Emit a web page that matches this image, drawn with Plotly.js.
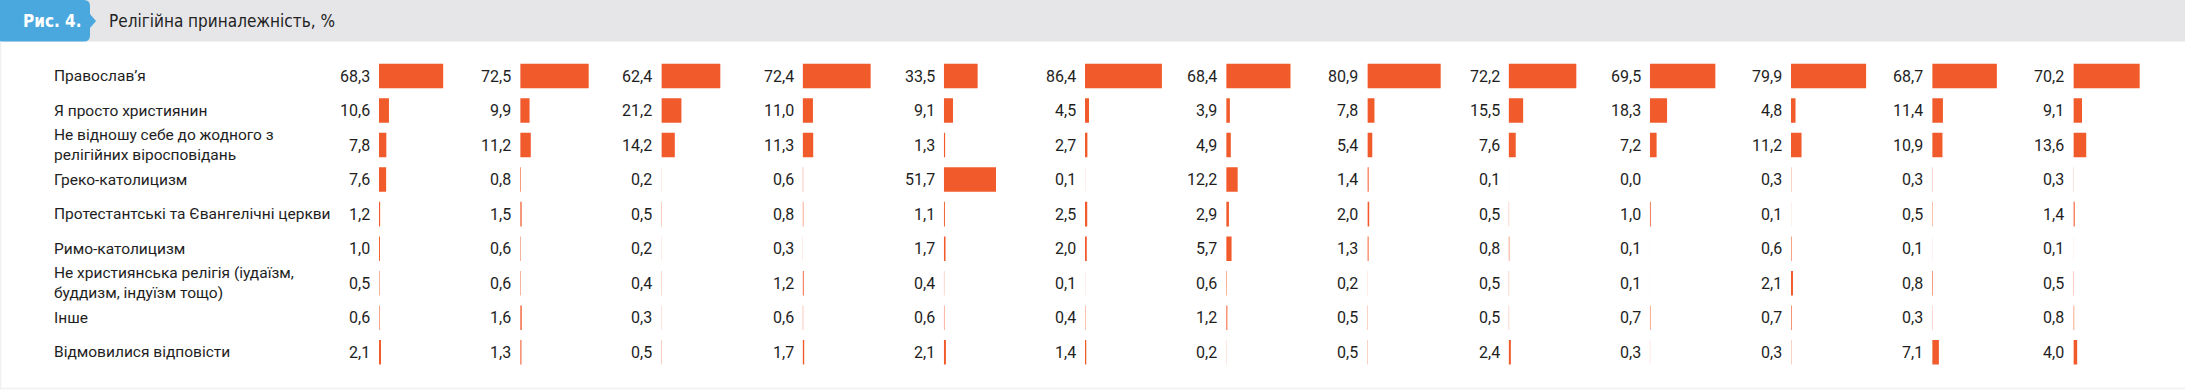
<!DOCTYPE html>
<html>
<head>
<meta charset="utf-8">
<script src="https://cdn.plot.ly/plotly-3.0.1.min.js"></script>
<style>
  html, body { margin: 0; padding: 0; background: #ffffff; }
  #chart { width: 2185px; height: 390px; }
</style>
</head>
<body>
<div id="chart"></div>
<script>
// ---------- text ----------
const figureLabel = 'Рис. 4.';
const chartTitle = 'Релігійна приналежність, %';

// ---------- categories (rows) ----------
const categories = [
  'Православ’я',
  'Я просто християнин',
  'Не відношу себе до жодного з релігійних віросповідань',
  'Греко-католицизм',
  'Протестантські та Євангелічні церкви',
  'Римо-католицизм',
  'Не християнська релігія (іудаїзм, буддизм, індуїзм тощо)',
  'Інше',
  'Відмовилися відповісти'
];
const categoryLabels = [
  'Православ’я',
  'Я просто християнин',
  'Не відношу себе до жодного з<br>релігійних віросповідань',
  'Греко-католицизм',
  'Протестантські та Євангелічні церкви',
  'Римо-католицизм',
  'Не християнська релігія (іудаїзм,<br>буддизм, індуїзм тощо)',
  'Інше',
  'Відмовилися відповісти'
];

// ---------- series values (one array per column, %) ----------
const col01 = [68.3, 10.6,  7.8,  7.6, 1.2, 1.0, 0.5, 0.6, 2.1];
const col02 = [72.5,  9.9, 11.2,  0.8, 1.5, 0.6, 0.6, 1.6, 1.3];
const col03 = [62.4, 21.2, 14.2,  0.2, 0.5, 0.2, 0.4, 0.3, 0.5];
const col04 = [72.4, 11.0, 11.3,  0.6, 0.8, 0.3, 1.2, 0.6, 1.7];
const col05 = [33.5,  9.1,  1.3, 51.7, 1.1, 1.7, 0.4, 0.6, 2.1];
const col06 = [86.4,  4.5,  2.7,  0.1, 2.5, 2.0, 0.1, 0.4, 1.4];
const col07 = [68.4,  3.9,  4.9, 12.2, 2.9, 5.7, 0.6, 1.2, 0.2];
const col08 = [80.9,  7.8,  5.4,  1.4, 2.0, 1.3, 0.2, 0.5, 0.5];
const col09 = [72.2, 15.5,  7.6,  0.1, 0.5, 0.8, 0.5, 0.5, 2.4];
const col10 = [69.5, 18.3,  7.2,  0.0, 1.0, 0.1, 0.1, 0.7, 0.3];
const col11 = [79.9,  4.8, 11.2,  0.3, 0.1, 0.6, 2.1, 0.7, 0.3];
const col12 = [68.7, 11.4, 10.9,  0.3, 0.5, 0.1, 0.8, 0.3, 7.1];
const col13 = [70.2,  9.1, 13.6,  0.3, 1.4, 0.1, 0.5, 0.8, 4.0];
const columns = [col01, col02, col03, col04, col05, col06, col07, col08, col09, col10, col11, col12, col13];

// ---------- layout / style constants ----------
const W = 2185, H = 390;
const BAR_COLOR = '#f15a2b';
const TEXT_COLOR = '#1e1e1e';
const LABEL_FONT = 'Roboto, "Open Sans", sans-serif';
const HEAD_FONT = '"DejaVu Sans Condensed", "Liberation Sans Narrow", Roboto, sans-serif';
const firstBase = 379;      // px, left edge (zero) of first column
const colStep = 141.2;      // px between columns
const axisWidthPx = 100;    // px width of each column's x-axis domain
// px per 1% in each column (as drawn in the reference)
const pxPerUnit = [0.94, 0.945, 0.944, 0.94, 1.01, 0.89, 0.94, 0.906, 0.938, 0.943, 0.94, 0.941, 0.944];
const rowsTopPx = 58.75, rowsBottomPx = 369.5;
const headerH = 41.5;

const px = x => x / W;
const py = y => 1 - y / H;
const fmt = v => v.toFixed(1).replace('.', ',');

const data = [];
const annotations = [];
const layout = {
  width: W, height: H,
  margin: {l: 0, r: 0, t: 0, b: 0, pad: 0},
  paper_bgcolor: '#ffffff',
  plot_bgcolor: 'rgba(0,0,0,0)',
  showlegend: false,
  bargap: 0.29,
  yaxis: {
    type: 'category',
    categoryorder: 'array',
    categoryarray: categories,
    range: [categories.length - 0.5, -0.5],
    domain: [py(rowsBottomPx), py(rowsTopPx)],
    visible: false,
    fixedrange: true
  },
  shapes: [],
  annotations: annotations
};

columns.forEach((vals, k) => {
  const axName = k === 0 ? 'x' : 'x' + (k + 1);
  const axKey = k === 0 ? 'xaxis' : 'xaxis' + (k + 1);
  const base = firstBase + k * colStep;
  layout[axKey] = {
    domain: [px(base), px(base + axisWidthPx)],
    range: [0, axisWidthPx / pxPerUnit[k]],
    visible: false,
    fixedrange: true,
    anchor: 'y'
  };
  data.push({
    type: 'bar',
    orientation: 'h',
    x: vals,
    y: categories,
    xaxis: axName,
    yaxis: 'y',
    marker: {color: BAR_COLOR, line: {width: 0}},
    hoverinfo: 'skip'
  });
  vals.forEach((v, i) => {
    annotations.push({
      xref: axName, yref: 'y',
      x: 0, y: categories[i],
      text: fmt(v),
      xanchor: 'right', yanchor: 'middle',
      xshift: -7,
      showarrow: false,
      font: {family: LABEL_FONT, size: 16, color: TEXT_COLOR}
    });
  });
});

// category labels
categories.forEach((c, i) => {
  annotations.push({
    xref: 'paper', yref: 'y',
    x: px(52), y: c,
    text: categoryLabels[i],
    xanchor: 'left', yanchor: 'middle', align: 'left',
    showarrow: false,
    font: {family: LABEL_FONT, size: 15.5, color: TEXT_COLOR}
  });
});

// header band, tab, frame
const tabPath = [
  `M ${px(0)} ${py(0)}`,
  `L ${px(84)} ${py(0)}`,
  `Q ${px(90)} ${py(0)} ${px(90)} ${py(6)}`,
  `L ${px(90)} ${py(14)}`,
  `L ${px(96)} ${py(21)}`,
  `L ${px(90)} ${py(28)}`,
  `L ${px(90)} ${py(headerH - 6)}`,
  `Q ${px(90)} ${py(headerH)} ${px(84)} ${py(headerH)}`,
  `L ${px(0)} ${py(headerH)} Z`
].join(' ');
layout.shapes.push(
  {type: 'rect', xref: 'paper', yref: 'paper', x0: 0, x1: 1, y0: py(headerH), y1: 1,
   fillcolor: '#e6e6e8', line: {width: 0}, layer: 'below'},
  {type: 'path', xref: 'paper', yref: 'paper', path: tabPath,
   fillcolor: '#4aa8de', line: {width: 0}, layer: 'below'},
  {type: 'line', xref: 'paper', yref: 'paper', x0: 0, x1: 1, y0: py(388.5), y1: py(388.5),
   line: {color: '#f0f0f0', width: 1.5}, layer: 'below'},
  {type: 'line', xref: 'paper', yref: 'paper', x0: px(0.5), x1: px(0.5), y0: py(388.5), y1: py(headerH),
   line: {color: '#f0f0f0', width: 1.5}, layer: 'below'}
);
annotations.push(
  {xref: 'paper', yref: 'paper', x: px(21), y: py(21), xanchor: 'left', yanchor: 'middle',
   text: '<b>' + figureLabel + '</b>', showarrow: false,
   font: {family: HEAD_FONT, size: 17, color: '#ffffff'}},
  {xref: 'paper', yref: 'paper', x: px(107), y: py(21), xanchor: 'left', yanchor: 'middle',
   text: chartTitle, showarrow: false,
   font: {family: HEAD_FONT, size: 17, color: '#222222'}}
);

Plotly.newPlot('chart', data, layout, {staticPlot: true, displayModeBar: false});
</script>
</body>
</html>
